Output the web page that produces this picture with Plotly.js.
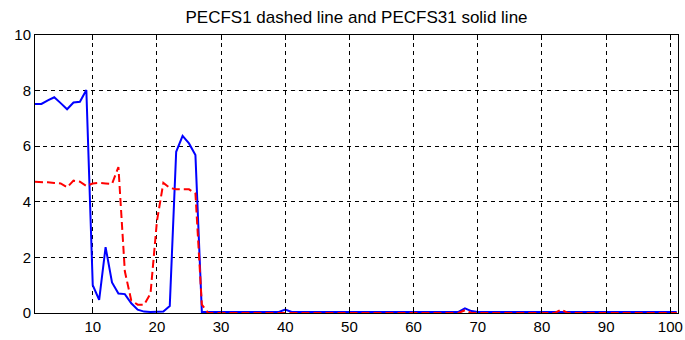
<!DOCTYPE html>
<html>
<head>
<meta charset="utf-8">
<script src="https://cdn.plot.ly/plotly-3.0.1.min.js"></script>
<style>
  html, body { margin: 0; padding: 0; background: #fff; }
  #chart { width: 685px; height: 340px; }
</style>
</head>
<body>
<div id="chart"></div>
<script>
// Sample index (1..101)
const sampleIndex = [
  1,2,3,4,5,6,7,8,9,10,
  11,12,13,14,15,16,17,18,19,20,
  21,22,23,24,25,26,27,28,29,30,
  31,32,33,34,35,36,37,38,39,40,
  41,42,43,44,45,46,47,48,49,50,
  51,52,53,54,55,56,57,58,59,60,
  61,62,63,64,65,66,67,68,69,70,
  71,72,73,74,75,76,77,78,79,80,
  81,82,83,84,85,86,87,88,89,90,
  91,92,93,94,95,96,97,98,99,100,
  101
];

// PECFS31 (solid blue)
const pecfs31 = [
  7.52,7.52,7.65,7.76,7.55,7.33,7.57,7.60,8.02,1.00,
  0.47,2.37,1.10,0.70,0.68,0.35,0.12,0.05,0.04,0.04,
  0.05,0.25,5.80,6.37,6.10,5.68,0.04,0.04,0.04,0.04,
  0.04,0.04,0.04,0.04,0.04,0.04,0.04,0.04,0.04,0.12,
  0.04,0.04,0.04,0.04,0.04,0.04,0.04,0.04,0.04,0.04,
  0.04,0.04,0.04,0.04,0.04,0.04,0.04,0.04,0.04,0.04,
  0.04,0.04,0.04,0.04,0.04,0.04,0.04,0.17,0.07,0.04,
  0.04,0.04,0.04,0.04,0.04,0.04,0.04,0.04,0.04,0.04,
  0.04,0.04,0.04,0.04,0.04,0.04,0.04,0.04,0.04,0.04,
  0.04,0.04,0.04,0.04,0.04,0.04,0.04,0.04,0.04,0.04,
  0.04
];

// PECFS1 (dashed red)
const pecfs1 = [
  4.72,4.72,4.70,4.68,4.66,4.52,4.76,4.72,4.57,4.66,
  4.68,4.66,4.64,5.25,1.50,0.45,0.30,0.30,0.70,3.30,
  4.68,4.50,4.45,4.45,4.45,4.30,0.30,0.00,0.00,0.00,
  0.00,0.00,0.00,0.00,0.00,0.00,0.00,0.00,0.00,0.00,
  0.00,0.00,0.00,0.00,0.00,0.00,0.00,0.00,0.00,0.00,
  0.00,0.00,0.00,0.00,0.00,0.00,0.00,0.00,0.00,0.00,
  0.00,0.00,0.00,0.00,0.00,0.00,0.00,0.10,0.00,0.00,
  0.00,0.00,0.00,0.00,0.00,0.00,0.00,0.00,0.00,0.00,
  0.00,0.00,0.12,0.00,0.00,0.00,0.00,0.00,0.00,0.00,
  0.00,0.00,0.00,0.00,0.00,0.00,0.00,0.00,0.00,0.00,
  0.00
];

const xTicks = [10,20,30,40,50,60,70,80,90,100];
const yTicks = [0,2,4,6,8,10];
const titleText = "PECFS1 dashed line and PECFS31 solid line";

const traces = [
  {
    x: sampleIndex, y: pecfs31, type: "scatter", mode: "lines",
    name: "PECFS31",
    line: { color: "#0000ff", width: 2 }
  },
  {
    x: sampleIndex, y: pecfs1, type: "scatter", mode: "lines",
    name: "PECFS1",
    line: { color: "#ff0000", width: 2, dash: "8px,4px" }
  }
];

const axisFont = { family: "Liberation Sans, Arial, sans-serif", size: 15, color: "#000" };

const layout = {
  width: 685, height: 340,
  margin: { l: 35, r: 7, t: 35, b: 27, pad: 0 },
  paper_bgcolor: "#ffffff",
  plot_bgcolor: "#ffffff",
  showlegend: false,
  title: {
    text: titleText,
    font: { family: "Liberation Sans, Arial, sans-serif", size: 17, color: "#000" },
    x: 0.5, xref: "paper", xanchor: "center",
    y: 17, yref: "container", yanchor: "middle"
  },
  xaxis: {
    range: [1, 101.2],
    tickvals: xTicks,
    ticktext: xTicks.map(String),
    tickfont: axisFont,
    ticks: "inside", ticklen: 5, tickcolor: "#000", tickwidth: 1,
    showline: true, linecolor: "#000", linewidth: 1, mirror: "ticks",
    showgrid: true, gridcolor: "#000", gridwidth: 1, griddash: "4px,4px",
    zeroline: false
  },
  yaxis: {
    range: [0, 10],
    tickvals: yTicks,
    ticktext: yTicks.map(String),
    tickfont: axisFont,
    ticks: "inside", ticklen: 5, tickcolor: "#000", tickwidth: 1,
    showline: true, linecolor: "#000", linewidth: 1, mirror: "ticks",
    showgrid: true, gridcolor: "#000", gridwidth: 1, griddash: "4px,4px",
    zeroline: false
  }
};
layout.title.y = 1 - 17 / 340;

Plotly.newPlot("chart", traces, layout, { staticPlot: true, displayModeBar: false });
</script>
</body>
</html>
